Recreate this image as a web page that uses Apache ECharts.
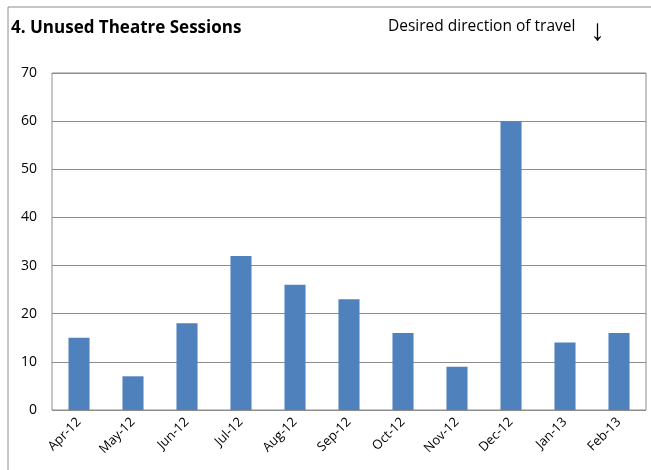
<!DOCTYPE html>
<html>
<head>
<meta charset="utf-8">
<script src="https://cdn.jsdelivr.net/npm/echarts@6/dist/echarts.min.js"></script>
<style>
	html, body { margin: 0; padding: 0; background: #fff; }
	#chart { width: 651px; height: 470px; }
</style>
</head>
<body>
<div id="chart"></div>
<script>
const months = ["Apr-12", "May-12", "Jun-12", "Jul-12", "Aug-12", "Sep-12", "Oct-12", "Nov-12", "Dec-12", "Jan-13", "Feb-13"];
const sessions = [15, 7, 18, 32, 26, 23, 16, 9, 60, 14, 16];
const yTicks = [0, 10, 20, 30, 40, 50, 60, 70];

const font = "'Open Sans', 'Liberation Sans', sans-serif";
const chart = echarts.init(document.getElementById("chart"));

const option = {
	animation: false,
	backgroundColor: "#fff",
	grid: {
		left: 52,
		right: 5,
		top: 73,
		bottom: 60,
		show: true,
		borderColor: "#8c8c8c",
		borderWidth: 1,
	},
	title: {
		text: "4. Unused Theatre Sessions",
		left: 6,
		top: 15,
		textStyle: { fontFamily: font, fontSize: 17, fontWeight: "bold", color: "#000" },
	},
	graphic: [
		// outer chart frame, cut off at right and bottom
		{
			type: "rect",
			shape: { x: 8, y: 7, width: 700, height: 500 },
			style: { fill: "none", stroke: "#8c8c8c", lineWidth: 1 },
			silent: true,
		},
		{
			type: "text",
			left: 388,
			top: 19,
			style: { text: "Desired direction of travel", font: "15.5px " + font, fill: "#000" },
		},
		{
			type: "text",
			left: 590,
			top: 17,
			style: { text: "\u2193", font: "30px 'Liberation Serif', serif", fill: "#000" },
		},
	],
	xAxis: {
		type: "category",
		data: months,
		axisLine: { show: false },
		axisTick: { show: false },
		axisLabel: {
			rotate: 45,
			interval: 0,
			margin: 10,
			fontFamily: font,
			fontSize: 13,
			color: "#000",
		},
	},
	yAxis: {
		type: "value",
		min: yTicks[0],
		max: yTicks[yTicks.length - 1],
		interval: 10,
		axisLine: { show: false },
		axisTick: { show: false },
		splitLine: { lineStyle: { color: "#8c8c8c", width: 1 } },
		axisLabel: {
			margin: 15,
			fontFamily: font,
			fontSize: 14,
			color: "#000",
		},
	},
	series: [
		{
			type: "bar",
			data: sessions,
			barCategoryGap: "61%",
			itemStyle: { color: "#4f81bd" },
		},
	],
};

chart.setOption(option);
</script>
</body>
</html>
